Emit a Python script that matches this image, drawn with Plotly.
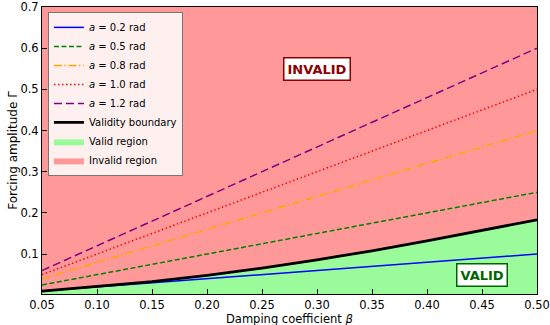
import plotly.graph_objects as go

# ---- data ----
beta_ends = [0.05, 0.50]
amp_labels = ["0.2", "0.5", "0.8", "1.0", "1.2"]
gamma_a02 = [0.010, 0.100]
gamma_a05 = [0.025, 0.250]
gamma_a08 = [0.040, 0.400]
gamma_a10 = [0.050, 0.500]
gamma_a12 = [0.060, 0.600]

beta_grid = [0.05, 0.10, 0.15, 0.20, 0.25, 0.30, 0.35, 0.40, 0.45, 0.50]
boundary = [0.010, 0.021, 0.033, 0.048, 0.066, 0.086, 0.108, 0.132, 0.158, 0.183]
gamma_top = [0.70] * len(beta_grid)

x_ticks = [0.05, 0.10, 0.15, 0.20, 0.25, 0.30, 0.35, 0.40, 0.45, 0.50]
y_ticks = [0.1, 0.2, 0.3, 0.4, 0.5, 0.6, 0.7]

FONT = "DejaVu Sans"
fig = go.Figure()

# Valid region (below boundary)
fig.add_trace(go.Scatter(x=beta_grid, y=boundary, fill="tozeroy", mode="lines",
                         line=dict(width=0, color="rgba(0,0,0,0)"),
                         fillcolor="rgb(153,251,153)", name="Valid region", legendrank=7))
# Invalid region (above boundary)
fig.add_trace(go.Scatter(x=beta_grid, y=boundary, mode="lines", line=dict(width=0),
                         showlegend=False, hoverinfo="skip"))
fig.add_trace(go.Scatter(x=beta_grid, y=gamma_top, fill="tonexty", mode="lines",
                         line=dict(width=0, color="rgba(0,0,0,0)"),
                         fillcolor="rgb(255,153,153)", name="Invalid region", legendrank=8))

styles = [
    ("blue", "solid"),
    ("green", "5px,2.5px"),
    ("orange", "8px,2.5px,1.5px,2.5px"),
    ("red", "1.5px,2.5px"),
    ("purple", "8px,4px"),
]
series = [gamma_a02, gamma_a05, gamma_a08, gamma_a10, gamma_a12]
for i, (lab, ys, (col, dash)) in enumerate(zip(amp_labels, series, styles)):
    fig.add_trace(go.Scatter(x=beta_ends, y=ys, mode="lines",
                             line=dict(color=col, width=1.5, dash=dash),
                             name=f"<i>a</i> = {lab} rad", legendrank=i + 1))

fig.add_trace(go.Scatter(x=beta_grid, y=boundary, mode="lines",
                         line=dict(color="black", width=2.8),
                         name="Validity boundary", legendrank=6))

fig.add_annotation(x=0.30, y=0.55, text="<b>INVALID</b>", showarrow=False,
                   font=dict(family=FONT, size=13, color="#8B0000"),
                   bgcolor="white", bordercolor="#8B0000", borderwidth=1.5, borderpad=3)
fig.add_annotation(x=0.45, y=0.05, text="<b>VALID</b>", showarrow=False,
                   font=dict(family=FONT, size=13, color="#006400"),
                   bgcolor="white", bordercolor="#006400", borderwidth=1.5, borderpad=3)
# x-axis title placed in the bottom margin
fig.add_annotation(x=0.5, xref="paper", y=1, yref="paper", yanchor="middle",
                   yshift=-(318.5 - 7), text="Damping coefficient <i>β</i>",
                   showarrow=False, borderpad=0,
                   font=dict(family=FONT, size=11.5, color="black"))

axis_common = dict(showline=True, linecolor="black", linewidth=1, mirror=True,
                   ticks="inside", ticklen=5, tickcolor="black", showgrid=False,
                   zeroline=False, automargin=False, ticklabeloverflow="allow",
                   tickfont=dict(family=FONT, size=11.5, color="black"))
fig.update_xaxes(range=[0.05, 0.50], tickvals=x_ticks,
                 ticktext=[f"{v:.2f}" for v in x_ticks],
                 **axis_common)
fig.update_yaxes(range=[0.003, 0.70], tickvals=y_ticks,
                 ticktext=[f"{v:.1f}" for v in y_ticks],
                 title=dict(text="Forcing amplitude Γ", standoff=0,
                            font=dict(family=FONT, size=12, color="black")),
                 **axis_common)

fig.update_layout(
    width=550, height=325,
    margin=dict(l=42, r=13, t=7, b=31),
    paper_bgcolor="white", plot_bgcolor="white",
    font=dict(family=FONT, size=12, color="black"),
    legend=dict(x=0.012, y=0.983, xanchor="left", yanchor="top",
                traceorder="normal",
                bgcolor="rgba(255,255,255,0.85)", bordercolor="#777", borderwidth=1,
                font=dict(family=FONT, size=10, color="black"),
                itemwidth=30, tracegroupgap=0),
    showlegend=True,
)

fig.write_html("out.html", config={"displayModeBar": False},
               post_script="document.body.style.margin='0';")
